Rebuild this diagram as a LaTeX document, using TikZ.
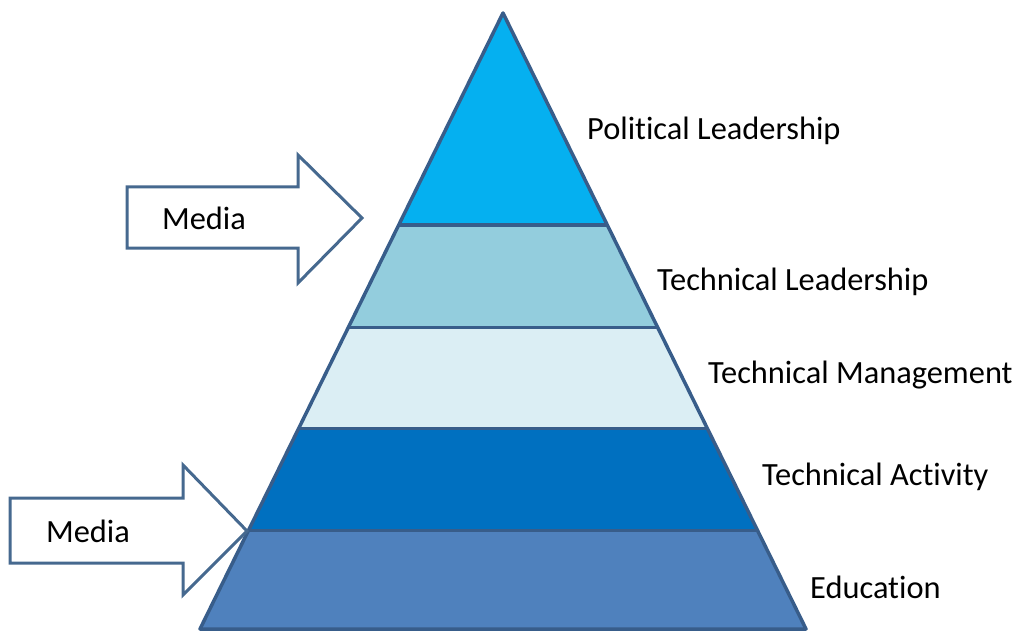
\documentclass[tikz,border=0pt]{standalone}
\usepackage{fontspec}
\setmainfont[Ligatures=NoCommon]{Carlito}
\begin{document}
\begin{tikzpicture}[x=1pt,y=-1pt,
  outline/.style={draw=edgeblue,line width=3.5pt,line join=round},
  bandline/.style={draw=edgeblue,line width=3pt},
  mediaarrow/.style={draw=arrowblue,line width=3pt,fill=white,line join=miter},
  lbl/.style={anchor=west,inner sep=0pt,font=\fontsize{32.4}{38}\selectfont,text=black},
  mlbl/.style={inner sep=0pt,font=\fontsize{32.4}{38}\selectfont,text=black}]
\definecolor{edgeblue}{HTML}{385D8A}
\definecolor{arrowblue}{HTML}{46698F}
\definecolor{bandA}{HTML}{05B0F0}
\definecolor{bandB}{HTML}{93CDDD}
\definecolor{bandC}{HTML}{DBEEF4}
\definecolor{bandD}{HTML}{0070C0}
\definecolor{bandE}{HTML}{4F81BD}
\useasboundingbox (0,0) rectangle (1017,631);
\clip (0,0) rectangle (1017,631);

% pyramid corners and band boundaries
\coordinate (apex) at (503,13);
\coordinate (l1) at (398.7,225); \coordinate (r1) at (607.3,225);
\coordinate (l2) at (348.5,327); \coordinate (r2) at (657.5,327);
\coordinate (l3) at (298.9,428); \coordinate (r3) at (707.1,428);
\coordinate (l4) at (248.7,530); \coordinate (r4) at (757.3,530);
\coordinate (l5) at (200,629);   \coordinate (r5) at (806,629);

% bands, top to bottom
\fill[bandA] (apex) -- (r1) -- (l1) -- cycle;
\fill[bandB] (l1) -- (r1) -- (r2) -- (l2) -- cycle;
\fill[bandC] (l2) -- (r2) -- (r3) -- (l3) -- cycle;
\fill[bandD] (l3) -- (r3) -- (r4) -- (l4) -- cycle;
\fill[bandE] (l4) -- (r4) -- (r5) -- (l5) -- cycle;

% band separators and outer outline
\draw[bandline] (l1) -- (r1);
\draw[bandline] (l2) -- (r2);
\draw[bandline] (l3) -- (r3);
\draw[bandline] (l4) -- (r4);
\draw[outline] (apex) -- (r5) -- (l5) -- cycle;

% media arrows
\draw[mediaarrow] (127,187) -- (298,187) -- (298,155) -- (362,218)
  -- (298,283) -- (298,248) -- (127,248) -- cycle;
\draw[mediaarrow] (10,498) -- (183,498) -- (183,465) -- (247,531)
  -- (183,595) -- (183,563) -- (10,563) -- cycle;
\node[mlbl] (media1) at (204,218) {Media};
\node[mlbl] (media2) at (88,531) {Media};

% level labels
\node[lbl] (political) at (587,131) {Political Leadership};
\node[lbl] (techlead) at (657,282) {Technical Leadership};
\node[lbl] (techman) at (708,375) {Technical Management};
\node[lbl] (techact) at (762,477) {Technical Activity};
\node[lbl] (edu) at (810,587) {Education};
\end{tikzpicture}
\end{document}
